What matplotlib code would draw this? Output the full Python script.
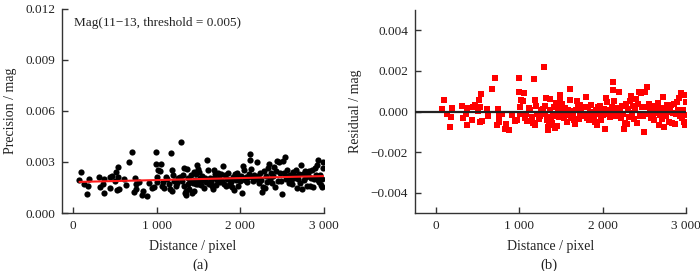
import numpy as np
import matplotlib
matplotlib.use("Agg")
from matplotlib import pyplot as plt

plt.rcParams['font.family'] = ['Liberation Serif', 'DejaVu Serif']
plt.rcParams['axes.unicode_minus'] = True

# distance (pixel) of each star and its residual (mag)
distancia = [76, 100, 128, 164, 180, 196, 316, 328, 364, 369, 376, 437, 445, 465, 501, 517, 525, 533, 541, 553,
             609, 629, 669, 705, 729, 741, 753, 757, 789, 829, 841, 881, 909, 945, 966, 990, 998, 1002, 1010, 1022,
             1038, 1050, 1062, 1078, 1090, 1117, 1129, 1146, 1166, 1174, 1182, 1190, 1198, 1206, 1230, 1250, 1262,
             1282, 1294, 1302, 1310, 1322, 1330, 1338, 1346, 1354, 1362, 1370, 1378, 1390, 1402, 1414, 1426, 1434,
             1442, 1450, 1458, 1466, 1474, 1482, 1490, 1498, 1506, 1514, 1522, 1534, 1546, 1558, 1570, 1582, 1594,
             1602, 1610, 1622, 1634, 1646, 1658, 1670, 1682, 1690, 1698, 1710, 1722, 1730, 1742, 1754, 1766, 1782,
             1794, 1806, 1818, 1834, 1846, 1858, 1870, 1882, 1894, 1906, 1918, 1930, 1942, 1954, 1966, 1978, 1990,
             2002, 2014, 2026, 2039, 2051, 2063, 2075, 2087, 2099, 2111, 2119, 2123, 2131, 2143, 2155, 2167, 2183,
             2195, 2207, 2219, 2231, 2243, 2255, 2267, 2279, 2291, 2303, 2315, 2327, 2339, 2351, 2363, 2375, 2387,
             2399, 2411, 2423, 2435, 2447, 2459, 2471, 2483, 2495, 2507, 2519, 2531, 2543, 2555, 2567, 2579, 2591,
             2603, 2615, 2627, 2639, 2651, 2663, 2675, 2687, 2699, 2711, 2723, 2735, 2747, 2759, 2771, 2783, 2795,
             2807, 2819, 2831, 2843, 2855, 2867, 2879, 2891, 2903, 2915, 2927, 2936, 2948, 2960, 2972, 2984, 2992,
             2996, 2984]

residual = [0.00013, 0.00059, -0.00013, -0.00075, -0.00028, 0.00016, 0.00026, -0.00033, -0.00013, -0.00068,
            0.00016, -0.00042, 0.00023, 0.00033, 0.00003, 0.00055, -0.00052, 0.00024, 0.00085, -0.00047,
            0.00013, -0.00024, 0.0011, 0.00166, -0.00068, 0.00013, -0.00021, -0.00052, -0.0001, -0.00088,
            -0.0006, -0.00091, -0.00018, -0.00047, -0.00042, 0.00167, 0.00094, 0.0002, -0.00013, 0.00059,
            0.0005, 0.00091, -0.00033, -0.0001, -0.00047, 0.00016, 0.00007, -0.00026, -0.00057, 0.0016,
            -0.00067, 0.00057, 0.00029, -0.0001, -0.00036, -0.00021, 0.00007, 0.00013, 0.00221, -0.0001,
            0.00026, 0.00068, -0.00041, -0.00078, -0.00091, -0.00068, 0.00063, 0.00007, -0.00029, -0.00057,
            -0.00013, 0.00024, -0.0008, -0.00021, 0.00041, -0.0007, -0.00003, 0.00028, -0.00026, 0.00081,
            0.00062, -0.00026, 0.00039, -0.00013, 0.00008, -0.00033, 0.00016, -0.00008, -0.00052, 0.00008,
            -0.00018, 0.0011, 0.00055, -0.00033, 0.00003, -0.0002, -0.00044, -0.00062, 0.00007, 0.00054,
            0.00028, -0.00036, -0.0001, 0.00031, 0.00003, -0.00023, 0.00024, -0.00015, 0.00073, -0.00033,
            0.0002, -0.00044, -0.00002, 0.00033, -0.00041, -0.0001, -0.00021, -0.00052, 0.00007, -0.00068,
            0.00024, -0.00013, 0.00028, -0.00044, 0.00003, -0.00016, 0.00013, -0.00088, 0.00068, 0.00047,
            -0.0001, 0.00008, -0.00026, 0.00003, 0.00024, 0.00143, 0.00104, 0.00054, 0.00003, -0.0002,
            0.00016, -0.00008, 0.00094, 0.00008, -0.00033, 0.00028, -0.00013, -0.00086, -0.00057, 0.00039,
            -0.00062, 0.00011, -0.00026, 0.00054, 0.00078, -0.00008, 0.00028, -0.00036, 0.00008, 0.00063,
            -0.00059, 0.00039, 0.00098, -0.0002, 0.00089, 0.00024, -0.00021, -0.00101, 0.00094, 0.00021,
            0.00119, -0.00013, 0.00039, 0.00007, -0.00033, 0.00013, -0.0002, -0.00042, 0.00028, -0.00008,
            0.00003, 0.00041, -0.00068, -0.00016, 0.00016, -0.00036, 0.0007, -0.00075, 0.00016, -0.00023,
            0.00033, -0.00003, -0.00054, 0.00007, 0.00033, -0.00059, -0.00008, 0.00036, -0.00062, -0.00013,
            0.00047, 0.00008, 0.00065, -0.0002, 0.00093, -0.00033, 0.00008, -0.00052, -0.00016, 0.00081,
            0.00049, -0.00065]

# red fitted line of panel (a), read at its two ends
ajuste_x = [80, 3000]
ajuste_y = [0.00183, 0.00217]

xticks = [0, 1000, 2000, 3000]
xticklabels = ["0", "1 000", "2 000", "3 000"]
yticks_a = [0.000, 0.003, 0.006, 0.009, 0.012]
yticks_b = [-0.004, -0.002, 0.000, 0.002, 0.004]

distancia = np.array(distancia, dtype=float)
residual = np.array(residual)
# precision = fitted trend + residual
precision = np.interp(distancia, ajuste_x, ajuste_y) + residual


def estilo(ax):
    for lado in ["top", "right"]:
        ax.spines[lado].set_visible(False)
    for lado in ["left", "bottom"]:
        ax.spines[lado].set_color("#333333")
        ax.spines[lado].set_linewidth(1.0)
    ax.tick_params(direction="in", length=4, width=1, color="#333333",
                   labelsize=9.5, labelcolor="#222222", pad=5)
    ax.set_xticks(xticks)
    ax.set_xticklabels(xticklabels)
    ax.set_xlabel("Distance / pixel", fontsize=10, color="#222222", labelpad=6)


fig = plt.figure(figsize=(7.0, 2.71), dpi=100)

ax1 = fig.add_axes([0.0886, 0.214, 0.374, 0.753])
ax1.scatter(distancia, precision, s=20, color="black", linewidths=0, zorder=2)
ax1.plot(ajuste_x, ajuste_y, color="#ff1a1a", lw=1.5, zorder=3)
ax1.set_xlim(-131, 3000)
ax1.set_ylim(0, 0.012)
ax1.set_yticks(yticks_a)
ax1.set_yticklabels(["%.3f" % v for v in yticks_a])
estilo(ax1)
ax1.set_ylabel("Precision / mag", fontsize=10, color="#222222", labelpad=6)
ax1.text(0.045, 0.93, "Mag(11\u221213, threshold = 0.005)", transform=ax1.transAxes,
         fontsize=9.5, color="#222222", va="center")
fig.text(0.286, 0.02, "(a)", fontsize=10.5, ha="center", va="center", color="#222222")

ax2 = fig.add_axes([0.593, 0.214, 0.387, 0.749])
ax2.scatter(distancia, residual, s=17, marker="s", color="#ff0000", linewidths=0, zorder=2)
ax2.plot([-252, 3000], [0, 0], color="#222222", lw=1.6, zorder=3)
ax2.set_xlim(-252, 3000)
ax2.set_ylim(-0.005, 0.005)
ax2.set_yticks(yticks_b)
ax2.set_yticklabels([("%.3f" % v).replace("-", "\u2212") for v in yticks_b])
estilo(ax2)
ax2.set_ylabel("Residual / mag", fontsize=10, color="#222222", labelpad=6)
fig.text(0.784, 0.02, "(b)", fontsize=10.5, ha="center", va="center", color="#222222")

fig.savefig("out.png", dpi=100)
